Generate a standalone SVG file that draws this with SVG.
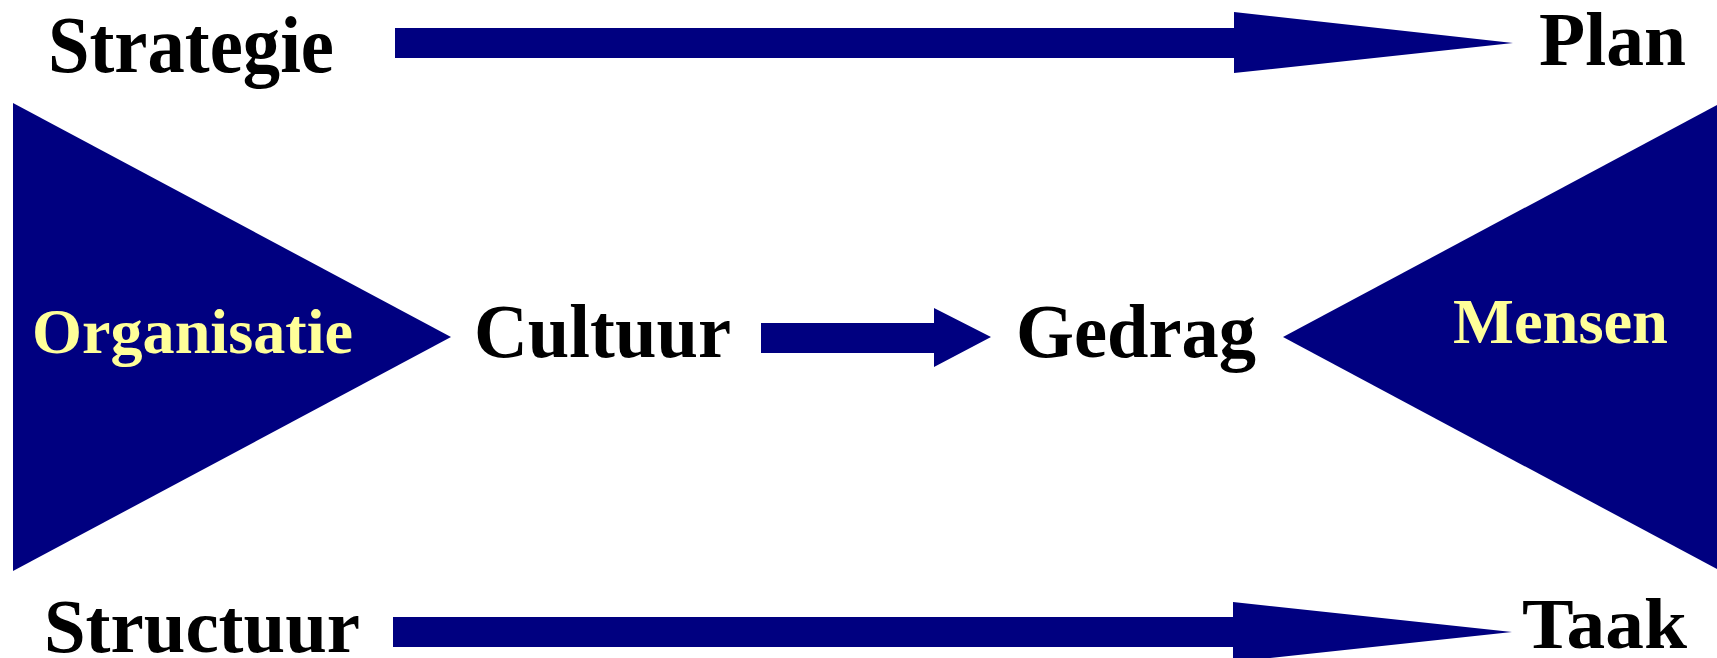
<svg xmlns="http://www.w3.org/2000/svg" width="1717" height="658" viewBox="0 0 1717 658">
  <style>
    .shape { fill: #000080; }
    .label { font-family: "Liberation Serif", "Times New Roman", serif; font-weight: bold; fill: #000000; }
    .inner { font-family: "Liberation Serif", "Times New Roman", serif; font-weight: bold; fill: #FFFF99; font-size: 64px; }
  </style>
  <rect width="1717" height="658" fill="#ffffff"/>

  <!-- wedges -->
  <g id="organisatie">
    <polygon class="shape" points="13,103 451,337 13,571"/>
    <text class="inner" x="32" y="353" textLength="321" lengthAdjust="spacingAndGlyphs">Organisatie</text>
  </g>
  <g id="mensen">
    <polygon class="shape" points="1717,105 1283,337 1717,569"/>
    <text class="inner" x="1453" y="343" textLength="215" lengthAdjust="spacingAndGlyphs">Mensen</text>
  </g>

  <!-- labels -->
  <g id="strategie">
    <text class="label" x="48" y="72" font-size="80" textLength="286" lengthAdjust="spacingAndGlyphs">Strategie</text>
  </g>
  <g id="plan">
    <text class="label" x="1539" y="65" font-size="76" textLength="147" lengthAdjust="spacingAndGlyphs">Plan</text>
  </g>
  <g id="cultuur">
    <text class="label" x="474" y="357" font-size="76" textLength="257" lengthAdjust="spacingAndGlyphs">Cultuur</text>
  </g>
  <g id="gedrag">
    <text class="label" x="1016" y="357" font-size="76" textLength="240" lengthAdjust="spacingAndGlyphs">Gedrag</text>
  </g>
  <g id="structuur">
    <text class="label" x="44" y="652" font-size="77" textLength="316" lengthAdjust="spacingAndGlyphs">Structuur</text>
  </g>
  <g id="taak">
    <text class="label" x="1522" y="648" font-size="72" textLength="165" lengthAdjust="spacingAndGlyphs">Taak</text>
  </g>

  <!-- block arrows -->
  <g id="connectors">
    <polygon class="shape" points="395,28 1234,28 1234,12 1513,43 1234,73 1234,58 395,58"/>
    <polygon class="shape" points="761,323 934,323 934,308 991,337 934,367 934,353 761,353"/>
    <polygon class="shape" points="393,617 1233,617 1233,602 1512,632 1233,662 1233,647 393,647"/>
  </g>
</svg>
